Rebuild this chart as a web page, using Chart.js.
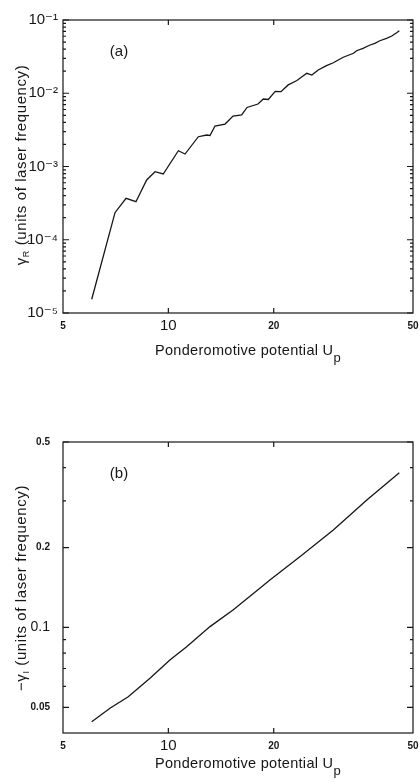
<!DOCTYPE html>
<html lang="en">
<head>
    <meta charset="UTF-8">
    <meta name="viewport" content="width=device-width, initial-scale=1.0">
    <title>Growth rates vs ponderomotive potential</title>
    <script src="https://cdn.jsdelivr.net/npm/chart.js"></script>
    <style>
        body {
            margin: 0;
            background: #fff;
        }
        .panels {
            width: 420px;
            height: 782px;
        }
        canvas {
            display: block;
        }
    </style>
</head>
<body>
    <div class="panels">
        <canvas id="realChart" width="420" height="391"></canvas>
        <canvas id="imagChart" width="420" height="391"></canvas>
    </div>

    <script>
        // shared x axis (ponderomotive potential)
        const upTicks = [5, 10, 20, 50];
        const upMarks = [10, 20];

        // (a) gamma_R
        const upA = [6.04, 7.04, 7.57, 8.08, 8.67, 9.16, 9.67, 10.68, 11.16, 12.18, 12.87, 13.15,
            13.59, 14.52, 15.3, 16.2, 16.78, 18.03, 18.68, 19.3, 20.2, 20.98, 22.0, 23.3,
            24.85, 25.7, 26.8, 28.3, 29.6, 30.3, 31.6, 33.8, 34.5, 36.0, 37.7, 38.9,
            40.2, 42.0, 43.5, 44.9, 45.7];
        const gammaR = [1.54e-5, 2.34e-4, 3.68e-4, 3.31e-4, 6.54e-4, 8.5e-4, 7.9e-4, 1.64e-3, 1.48e-3, 2.55e-3, 2.69e-3, 2.65e-3,
            3.57e-3, 3.8e-3, 4.89e-3, 5.05e-3, 6.39e-3, 7.13e-3, 8.34e-3, 8.22e-3, 1.06e-2, 1.05e-2, 1.30e-2, 1.49e-2,
            1.87e-2, 1.77e-2, 2.08e-2, 2.38e-2, 2.61e-2, 2.78e-2, 3.1e-2, 3.51e-2, 3.81e-2, 4.11e-2, 4.56e-2, 4.81e-2,
            5.21e-2, 5.62e-2, 6.05e-2, 6.71e-2, 7.14e-2];
        const gammaRTicks = [1e-5, 1e-4, 1e-3, 1e-2, 1e-1];

        // (b) -gamma_I
        const upB = [6.04, 6.81, 7.68, 8.86, 10.1, 11.28, 13.15, 15.3, 18.07, 19.5, 23.8, 29.6, 36.9, 45.7];
        const gammaI = [0.0441, 0.0496, 0.0548, 0.0643, 0.0754, 0.0846, 0.1007, 0.1164, 0.139, 0.151, 0.185, 0.233, 0.302, 0.383];
        const gammaITicks = [0.05, 0.1, 0.2, 0.5];
        const gammaIMinor = [0.06, 0.07, 0.08, 0.09, 0.3, 0.4];

        const ink = '#161616';
        const family = "'Liberation Sans', 'DejaVu Sans', sans-serif";
        const supChars = { '-': '\u207B', '1': '\u00B9', '2': '\u00B2', '3': '\u00B3', '4': '\u2074', '5': '\u2075' };

        // 2..9 in every decade of the gamma_R axis
        const gammaRMinor = [];
        gammaRTicks.slice(0, -1).forEach(d => {
            for (let m = 2; m <= 9; m++) gammaRMinor.push(d * m);
        });

        function powerLabel(v) {
            const e = String(Math.round(Math.log10(v)));
            return '10' + e.split('').map(c => supChars[c]).join('');
        }

        // text made of runs with their own size and baseline shift
        function drawRuns(ctx, runs, x, y, spacing) {
            ctx.letterSpacing = spacing + 'px';
            let cx = x;
            runs.forEach(([text, size, shift]) => {
                ctx.font = size + 'px ' + family;
                ctx.fillText(text, cx, y + (shift || 0));
                cx += ctx.measureText(text).width;
            });
            ctx.letterSpacing = '0px';
        }

        function runsWidth(ctx, runs, spacing) {
            ctx.letterSpacing = spacing + 'px';
            let w = 0;
            runs.forEach(([text, size]) => {
                ctx.font = size + 'px ' + family;
                w += ctx.measureText(text).width;
            });
            ctx.letterSpacing = '0px';
            return w;
        }

        // frame, inward ticks on all four sides, titles and panel letter
        function decor(opts) {
            return {
                id: 'decor',
                afterDraw(chart) {
                    const { ctx, chartArea: a, scales: { x, y } } = chart;
                    ctx.save();
                    ctx.strokeStyle = ink;
                    ctx.lineWidth = 1.2;
                    ctx.strokeRect(a.left, a.top, a.right - a.left, a.bottom - a.top);

                    ctx.beginPath();
                    upMarks.forEach(v => {
                        const px = x.getPixelForValue(v);
                        ctx.moveTo(px, a.bottom);
                        ctx.lineTo(px, a.bottom - 5);
                        ctx.moveTo(px, a.top);
                        ctx.lineTo(px, a.top + 5);
                    });
                    const yMark = (v, len) => {
                        const py = y.getPixelForValue(v);
                        ctx.moveTo(a.left, py);
                        ctx.lineTo(a.left + len, py);
                        ctx.moveTo(a.right, py);
                        ctx.lineTo(a.right - len, py);
                    };
                    opts.yMajor.forEach(v => yMark(v, 6));
                    opts.yMinor.forEach(v => yMark(v, 3));
                    ctx.stroke();

                    ctx.fillStyle = ink;
                    ctx.textBaseline = 'alphabetic';
                    ctx.textAlign = 'left';
                    drawRuns(ctx, opts.xTitle, 155, opts.xTitleY, 0.3);

                    ctx.save();
                    ctx.translate(26, opts.yTitleMid);
                    ctx.rotate(-Math.PI / 2);
                    const w = runsWidth(ctx, opts.yTitle, 0.6);
                    drawRuns(ctx, opts.yTitle, -w / 2, 0, 0.6);
                    ctx.restore();

                    ctx.font = '15px ' + family;
                    ctx.textAlign = 'center';
                    ctx.textBaseline = 'middle';
                    ctx.fillText(opts.panel, 119, opts.panelY);
                    ctx.restore();
                }
            };
        }

        function createChart(elementId, xs, ys, yRange, yTicks, yLabel, yFont, yPad, top, xHeight, opts) {
            const ctx = document.getElementById(elementId).getContext('2d');
            new Chart(ctx, {
                type: 'line',
                data: {
                    datasets: [{
                        data: xs.map((v, i) => ({ x: v, y: ys[i] })),
                        borderColor: ink,
                        borderWidth: 1.3,
                        pointRadius: 0,
                        tension: 0,
                        fill: false
                    }]
                },
                options: {
                    responsive: false,
                    animation: false,
                    layout: { padding: { top: top, right: 7, left: 0, bottom: 0 } },
                    plugins: { legend: { display: false }, tooltip: { enabled: false } },
                    scales: {
                        x: {
                            type: 'logarithmic',
                            min: 5,
                            max: 50,
                            grid: { display: false, drawTicks: false },
                            border: { display: false },
                            afterBuildTicks: scale => { scale.ticks = upTicks.map(v => ({ value: v })); },
                            afterFit: scale => {
                                scale.height = xHeight;
                                scale.paddingLeft = 0;
                                scale.paddingRight = 0;
                            },
                            ticks: {
                                autoSkip: false,
                                maxRotation: 0,
                                padding: 5,
                                color: ink,
                                callback: v => String(v),
                                font: c => (c.tick && c.tick.value === 10)
                                    ? { family: family, size: 15, lineHeight: 1.0 }
                                    : { family: family, size: 10, weight: 'bold', lineHeight: 1.6 }
                            }
                        },
                        y: {
                            type: 'logarithmic',
                            min: yRange[0],
                            max: yRange[1],
                            grid: { display: false, drawTicks: false },
                            border: { display: false },
                            afterBuildTicks: scale => { scale.ticks = yTicks.map(v => ({ value: v })); },
                            afterFit: scale => {
                                scale.width = 63;
                                scale.paddingTop = 0;
                                scale.paddingBottom = 0;
                            },
                            ticks: {
                                autoSkip: false,
                                padding: yPad,
                                color: ink,
                                callback: yLabel,
                                font: yFont
                            }
                        }
                    }
                },
                plugins: [decor(opts)]
            });
        }

        createChart('realChart', upA, gammaR, [1e-5, 1e-1], gammaRTicks, powerLabel,
            { family: family, size: 15 }, 5, 20, 78, {
                yMajor: gammaRTicks,
                yMinor: gammaRMinor,
                xTitle: [['Ponderomotive potential U', 14.5], ['p', 13, 7]],
                xTitleY: 355,
                yTitle: [['\u03B3', 15], ['R', 9, 3], [' (units of laser frequency)', 15]],
                yTitleMid: 165,
                panel: '(a)',
                panelY: 52
            });

        createChart('imagChart', upB, gammaI, [0.04, 0.5], gammaITicks, v => String(v),
            c => (c.tick && c.tick.value === 0.1)
                ? { family: family, size: 14 }
                : { family: family, size: 10, weight: 'bold' },
            13, 51, 49, {
                yMajor: gammaITicks,
                yMinor: gammaIMinor,
                xTitle: [['Ponderomotive potential U', 14.5], ['p', 13, 7]],
                xTitleY: 377,
                yTitle: [['\u2212\u03B3', 15], ['I', 9, 3], [' (units of laser frequency)', 15]],
                yTitleMid: 197,
                panel: '(b)',
                panelY: 83
            });
    </script>
</body>
</html>
